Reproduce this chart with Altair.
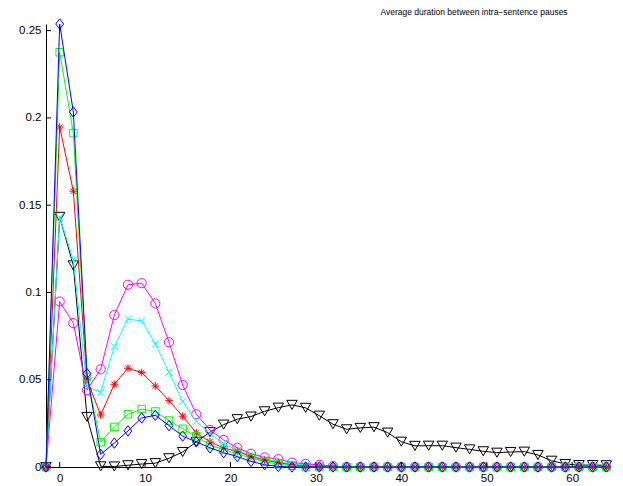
import altair as alt
import pandas as pd

x_vals = [-1.6, 0.0, 1.6, 3.2, 4.8, 6.4, 8.0, 9.6, 11.2, 12.8, 14.4, 16.0, 17.6, 19.2,
          20.8, 22.4, 24.0, 25.6, 27.2, 28.8, 30.4, 32.0, 33.6, 35.2, 36.8, 38.4, 40.0,
          41.6, 43.2, 44.8, 46.4, 48.0, 49.6, 51.2, 52.8, 54.4, 56.0, 57.6, 59.2, 60.8,
          62.4, 64.0]

magenta = [0, 0.0948, 0.0824, 0.0440, 0.0560, 0.0870, 0.1044, 0.1053, 0.0937, 0.0715,
           0.0470, 0.0302, 0.0212, 0.0155, 0.0110, 0.0076, 0.0055, 0.0045, 0.0025, 0.0018,
           0.0012, 0.0005, 0, 0, 0, 0, 0, 0, 0, 0, 0, 0, 0, 0, 0, 0, 0, 0, 0, 0, 0, 0]
cyan = [0, 0.1430, 0.1187, 0.0460, 0.0428, 0.0690, 0.0847, 0.0837, 0.0705, 0.0543,
        0.0375, 0.0262, 0.0190, 0.0135, 0.0095, 0.0065, 0.0045, 0.0030, 0.0018, 0.0010,
        0.0005, 0, 0, 0, 0, 0, 0, 0, 0, 0, 0, 0, 0, 0, 0, 0, 0, 0, 0, 0, 0, 0]
red = [0, 0.1948, 0.1580, 0.0500, 0.0298, 0.0474, 0.0566, 0.0541, 0.0464, 0.0380,
       0.0291, 0.0195, 0.0145, 0.0108, 0.0090, 0.0060, 0.0040, 0.0025, 0.0012, 0.0005,
       0, 0, 0, 0, 0, 0, 0, 0, 0, 0, 0, 0, 0, 0, 0, 0, 0, 0, 0, 0, 0, 0]
green = [0, 0.2376, 0.1913, 0.0515, 0.0142, 0.0230, 0.0302, 0.0332, 0.0318, 0.0266,
         0.0219, 0.0176, 0.0126, 0.0099, 0.0075, 0.0052, 0.0031, 0.0016, 0.0007, 0,
         0, 0, 0, 0, 0, 0, 0, 0, 0, 0, 0, 0, 0, 0, 0, 0, 0, 0, 0, 0, 0, 0]
blue = [0, 0.2538, 0.2034, 0.0535, 0.0072, 0.0137, 0.0207, 0.0281, 0.0296, 0.0237,
        0.0177, 0.0144, 0.0110, 0.0082, 0.0060, 0.0032, 0.0013, 0.0003, 0, 0,
        0, 0, 0, 0, 0, 0, 0, 0, 0, 0, 0, 0, 0, 0, 0, 0, 0, 0, 0, 0, 0, 0]
black = [0, 0.1433, 0.1155, 0.0287, 0.0004, 0.0003, 0.0010, 0.0017, 0.0022, 0.0050,
         0.0086, 0.0144, 0.0200, 0.0243, 0.0274, 0.0289, 0.0319, 0.0340, 0.0356, 0.0339,
         0.0294, 0.0245, 0.0216, 0.0224, 0.0228, 0.0197, 0.0145, 0.0121, 0.0122, 0.0122,
         0.0111, 0.0101, 0.0090, 0.0082, 0.0086, 0.0088, 0.0069, 0.0036, 0.0017, 0.0011,
         0.0011, 0.0010]

x_ticks = [0, 10, 20, 30, 40, 50, 60]
y_ticks = [0, 0.05, 0.1, 0.15, 0.2, 0.25]
title_text = "Average duration between intra\u2212sentence pauses"

W, H = 562, 443
FONT = "Liberation Sans"

xs = alt.Scale(domain=[-1.6, 64.2], nice=False, zero=False)
ys = alt.Scale(domain=[0, 0.2538], nice=False, zero=False)
X = alt.X("x:Q", scale=xs, title=None,
          axis=alt.Axis(values=x_ticks, ticks=False, grid=False, domainColor="black",
                        domainWidth=1, labelColor="black", labelFont=FONT,
                        labelFontSize=11.5, labelPadding=5, format="d"))
Y = alt.Y("y:Q", scale=ys, title=None,
          axis=alt.Axis(values=y_ticks, ticks=False, grid=False, domainColor="black",
                        domainWidth=1, labelColor="black", labelFont=FONT,
                        labelFontSize=11.5, labelPadding=5, format="~g"))

X_PATH = "M-1,-1L1,1M-1,1L1,-1"
STAR_PATH = "M-1,0L1,0M0,-1L0,1M-0.7,-0.7L0.7,0.7M-0.7,0.7L0.7,-0.7"
DIAMOND_PATH = "M0,-1.2L0.9,0L0,1.2L-0.9,0Z"

series = [
    (black, "#000000", "triangle-down", 110),
    (magenta, "#FF00FF", "circle", 85),
    (cyan, "#00FFFF", X_PATH, 50),
    (red, "#FF0000", STAR_PATH, 60),
    (green, "#00FF00", "square", 56),
    (blue, "#0000FF", DIAMOND_PATH, 75),
]

layers = []
for vals, col, shape, size in series:
    df = pd.DataFrame({"x": x_vals, "y": vals})
    base = alt.Chart(df)
    layers.append(base.mark_line(color=col, strokeWidth=1).encode(x=X, y=Y))
    layers.append(base.mark_point(shape=shape, size=size, filled=False, color=col,
                                  strokeWidth=1, opacity=1).encode(x=X, y=Y))

ytick_df = pd.DataFrame({"y": y_ticks})
xtick_df = pd.DataFrame({"x": x_ticks})
layers.append(alt.Chart(ytick_df).mark_rule(color="black", strokeWidth=1).encode(
    y=Y, x=alt.value(0), x2=alt.value(5)))
layers.append(alt.Chart(xtick_df).mark_rule(color="black", strokeWidth=1).encode(
    x=X, y=alt.value(H), y2=alt.value(H - 5)))

title_df = pd.DataFrame({"t": [title_text]})
layers.append(alt.Chart(title_df).mark_text(font=FONT, fontSize=8.5, color="black",
                                            align="center", baseline="alphabetic").encode(
    text="t:N", x=alt.value(428), y=alt.value(-9)))

chart = alt.layer(*layers).properties(
    width=W, height=H,
    autosize=alt.AutoSizeParams(type="none"),
    padding={"left": 38, "top": 16, "right": 7, "bottom": 18},
).configure_view(stroke=None)

chart.save("out.html", embed_options={"renderer": "svg", "actions": False})
